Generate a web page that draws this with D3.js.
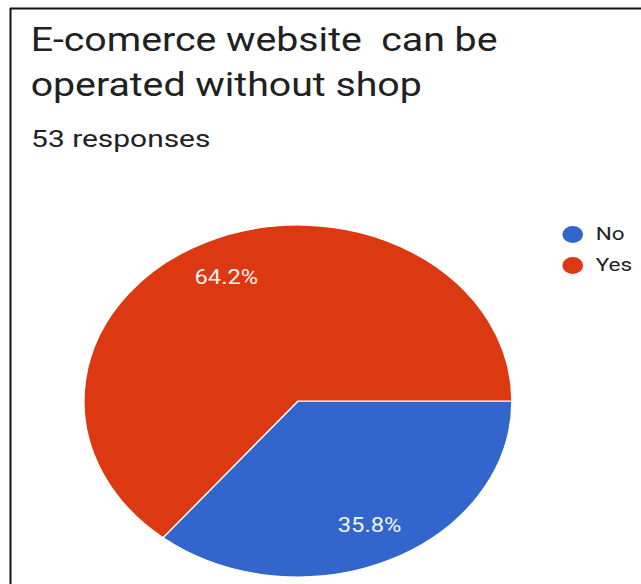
<!DOCTYPE html>
<html>
<head>
<meta charset="utf-8">
<script src="https://cdn.jsdelivr.net/npm/d3@7"></script>
<style>
  html, body { margin: 0; padding: 0; background: #fff; }
  svg { display: block; font-family: Roboto, "Noto Sans", Arial, sans-serif; }
</style>
</head>
<body>
<svg id="chart" width="641" height="584"></svg>
<script>
// ---- data ----
const titleLines = ["E-comerce website\u00a0 can be", "operated without shop"];
const categories = ["No", "Yes"];
const counts = [19, 34];
const colors = ["#3366cc", "#dc3912"];

// ---- layout ----
const W = 641, H = 584;
const sx = 1.216;             // the reference is stretched horizontally
const cx = 245, cy = 401, r = 176, labelR = 137;

const svg = d3.select("#chart");
svg.append("rect").attr("width", W).attr("height", H).attr("fill", "#fff");

// frame
svg.append("line").attr("x1", 10).attr("x2", W).attr("y1", 8.5).attr("y2", 8.5)
  .attr("stroke", "#111").attr("stroke-width", 2);
svg.append("line").attr("x1", 10.5).attr("x2", 10.5).attr("y1", 8).attr("y2", H)
  .attr("stroke", "#111").attr("stroke-width", 2);

const g = svg.append("g").attr("transform", `scale(${sx},1)`);

// title
g.selectAll("text.title").data(titleLines).join("text")
  .attr("class", "title")
  .attr("x", 25.2)
  .attr("y", (d, i) => 51 + i * 45.5)
  .attr("font-size", 32.3)
  .attr("fill", "#212121")
  .text(d => d);

const total = d3.sum(counts);
g.append("text")
  .attr("x", 25.6).attr("y", 147.5)
  .attr("font-size", 24.6)
  .attr("fill", "#222")
  .text(`${total} responses`);

// pie
const pie = d3.pie().sort(null).value(d => d)
  .startAngle(Math.PI / 2).endAngle(Math.PI / 2 + 2 * Math.PI);
const arcs = pie(counts);
const arc = d3.arc().innerRadius(0).outerRadius(r);
const labelArc = d3.arc().innerRadius(labelR).outerRadius(labelR);

const pg = g.append("g").attr("transform", `translate(${cx},${cy})`);
pg.selectAll("path").data(arcs).join("path")
  .attr("d", arc)
  .attr("fill", (d, i) => colors[i])
  .attr("stroke", "#fff")
  .attr("stroke-width", 1.2);

pg.selectAll("text").data(arcs).join("text")
  .attr("transform", d => `translate(${labelArc.centroid(d)})`)
  .attr("text-anchor", "middle")
  .attr("dy", "0.36em")
  .attr("font-size", 19.5)
  .attr("fill", "#f4f4f0")
  .text(d => (d.data / total * 100).toFixed(1) + "%");

// legend
const lg = g.append("g");
const items = lg.selectAll("g").data(categories).join("g")
  .attr("transform", (d, i) => `translate(0,${234.5 + i * 31})`);
items.append("circle")
  .attr("cx", 471).attr("cy", 0).attr("r", 8.5)
  .attr("fill", (d, i) => colors[i]);
items.append("text")
  .attr("x", 490).attr("y", 5.5)
  .attr("font-size", 18.5)
  .attr("fill", "#222")
  .text(d => d);
</script>
</body>
</html>
